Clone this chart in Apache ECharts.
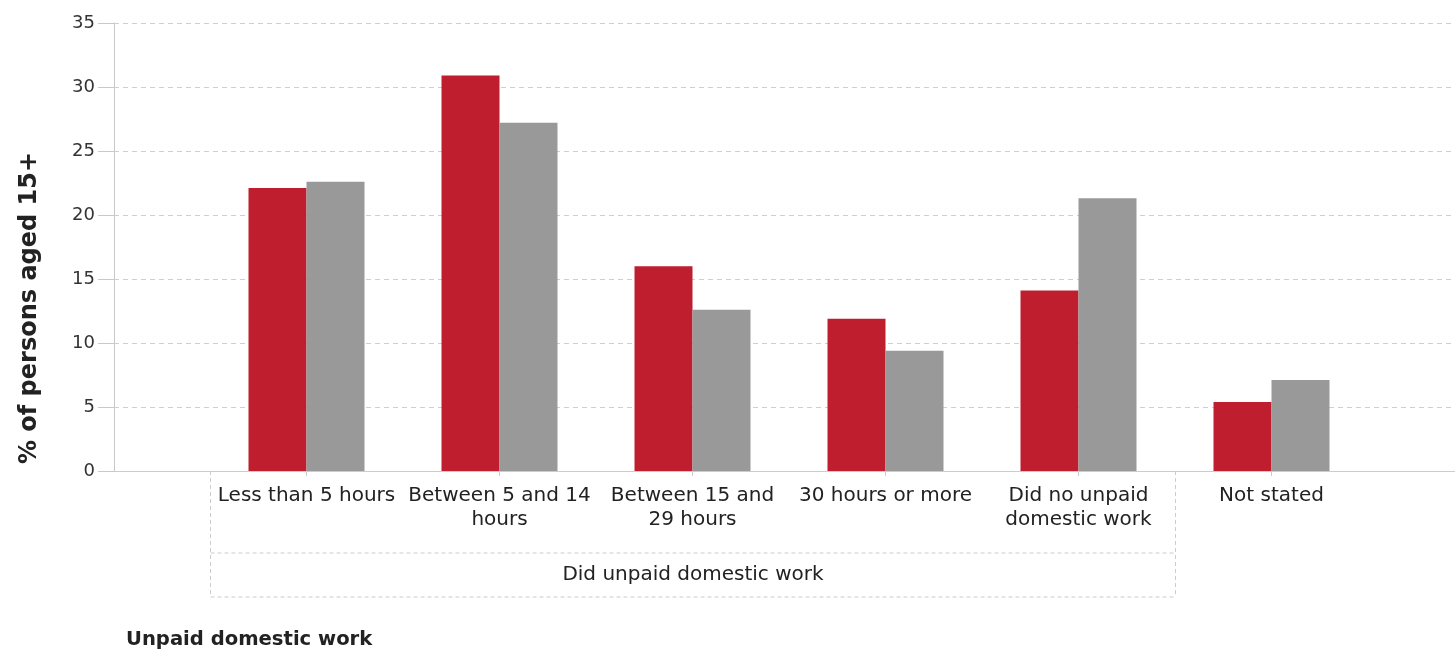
<!DOCTYPE html>
<html>
<head>
<meta charset="utf-8">
<script src="https://cdn.jsdelivr.net/npm/echarts@6/dist/echarts.min.js"></script>
<style>
html,body{margin:0;padding:0;background:#fff;}
#chart{width:1455px;height:651px;}
</style>
</head>
<body>
<div id="chart"></div>
<script>
// ---- data ----
var categories = [
  'Less than 5 hours',
  'Between 5 and 14\nhours',
  'Between 15 and\n29 hours',
  '30 hours or more',
  'Did no unpaid\ndomestic work',
  'Not stated'
];
var seriesRed = [22.1, 30.9, 16.0, 11.9, 14.1, 5.4];
var seriesGray = [22.6, 27.2, 12.6, 9.4, 21.3, 7.1];
var yTicks = { min: 0, max: 35, interval: 5 };
var groupLabel = 'Did unpaid domestic work';
var groupSpan = [0, 4]; // category indexes covered by the group bracket
var yAxisTitle = '% of persons aged 15+';
var bottomTitle = 'Unpaid domestic work';

var FONT = 'DejaVu Sans';
var chart = echarts.init(document.getElementById('chart'), null, {renderer: 'canvas'});

var option = {
  animation: false,
  backgroundColor: '#ffffff',
  grid: [
    {left: 114, right: 0, top: 23, bottom: 180},
    {left: 210, right: 87, top: 23, bottom: 180}
  ],
  xAxis: [
    {
      type: 'value', gridIndex: 0, min: 0, max: 1,
      axisLine: {show: true, lineStyle: {color: '#cccccc', width: 1}},
      axisTick: {show: false}, axisLabel: {show: false}, splitLine: {show: false}
    },
    {
      type: 'category', gridIndex: 1, data: categories,
      axisLine: {show: false},
      axisTick: {show: true, alignWithLabel: true, length: 5, lineStyle: {color: '#cccccc'}},
      axisLabel: {interval: 0, fontFamily: FONT, fontSize: 20, lineHeight: 24, color: '#222222', margin: 13},
      splitLine: {show: false}
    }
  ],
  yAxis: [
    {
      type: 'value', gridIndex: 0, min: yTicks.min, max: yTicks.max, interval: yTicks.interval,
      axisLine: {show: true, lineStyle: {color: '#c8c8c8', width: 1}},
      axisTick: {show: true, length: 16, lineStyle: {color: '#c8c8c8'}},
      axisLabel: {fontFamily: FONT, fontSize: 18, color: '#333333', margin: 19},
      splitLine: {show: true, lineStyle: {color: '#cfcfcf', type: [5, 4], width: 1}}
    },
    {
      type: 'value', gridIndex: 1, min: yTicks.min, max: yTicks.max, interval: yTicks.interval,
      show: false, splitLine: {show: false}
    }
  ],
  series: [
    {
      type: 'bar', xAxisIndex: 1, yAxisIndex: 1, data: seriesRed,
      barWidth: 58, barGap: '0%',
      itemStyle: {color: '#be1e2d'}
    },
    {
      type: 'bar', xAxisIndex: 1, yAxisIndex: 1, data: seriesGray,
      barWidth: 58, barGap: '0%',
      itemStyle: {color: '#999999'}
    }
  ]
};
chart.setOption(option);

// bracket for the grouped categories, derived from the axis
var c0 = chart.convertToPixel({xAxisIndex: 1}, categories[groupSpan[0]]);
var c1 = chart.convertToPixel({xAxisIndex: 1}, categories[groupSpan[1]]);
var step = (c1 - c0) / (groupSpan[1] - groupSpan[0]);
var bx0 = Math.round(c0 - step / 2) + 0.5;
var bx1 = Math.round(c1 + step / 2) + 0.5;
var axisY = chart.convertToPixel({yAxisIndex: 0}, 0);
var midY = axisY + 82;
var botY = axisY + 126;
var dash = {stroke: '#cccccc', lineWidth: 1, lineDash: [4, 3]};

chart.setOption({
  graphic: [
    {type: 'line', shape: {x1: bx0, y1: axisY, x2: bx0, y2: botY}, style: dash, silent: true},
    {type: 'line', shape: {x1: bx1, y1: axisY, x2: bx1, y2: botY}, style: dash, silent: true},
    {type: 'line', shape: {x1: bx0, y1: midY, x2: bx1, y2: midY}, style: dash, silent: true},
    {type: 'line', shape: {x1: bx0, y1: botY, x2: bx1, y2: botY}, style: dash, silent: true},
    {
      type: 'text', x: (bx0 + bx1) / 2, y: (midY + botY) / 2, silent: true,
      style: {text: groupLabel, fontFamily: FONT, fontSize: 20, fill: '#222222', align: 'center', verticalAlign: 'middle'}
    },
    {
      type: 'text', x: 30, y: 308, rotation: Math.PI / 2, silent: true,
      style: {text: yAxisTitle, fontFamily: FONT, fontWeight: 'bold', fontSize: 24, fill: '#222222', align: 'center', verticalAlign: 'middle'}
    },
    {
      type: 'text', x: 126, y: 640, silent: true,
      style: {text: bottomTitle, fontFamily: FONT, fontWeight: 'bold', fontSize: 19.6, fill: '#222222', align: 'left', verticalAlign: 'middle'}
    }
  ]
});
</script>
</body>
</html>
